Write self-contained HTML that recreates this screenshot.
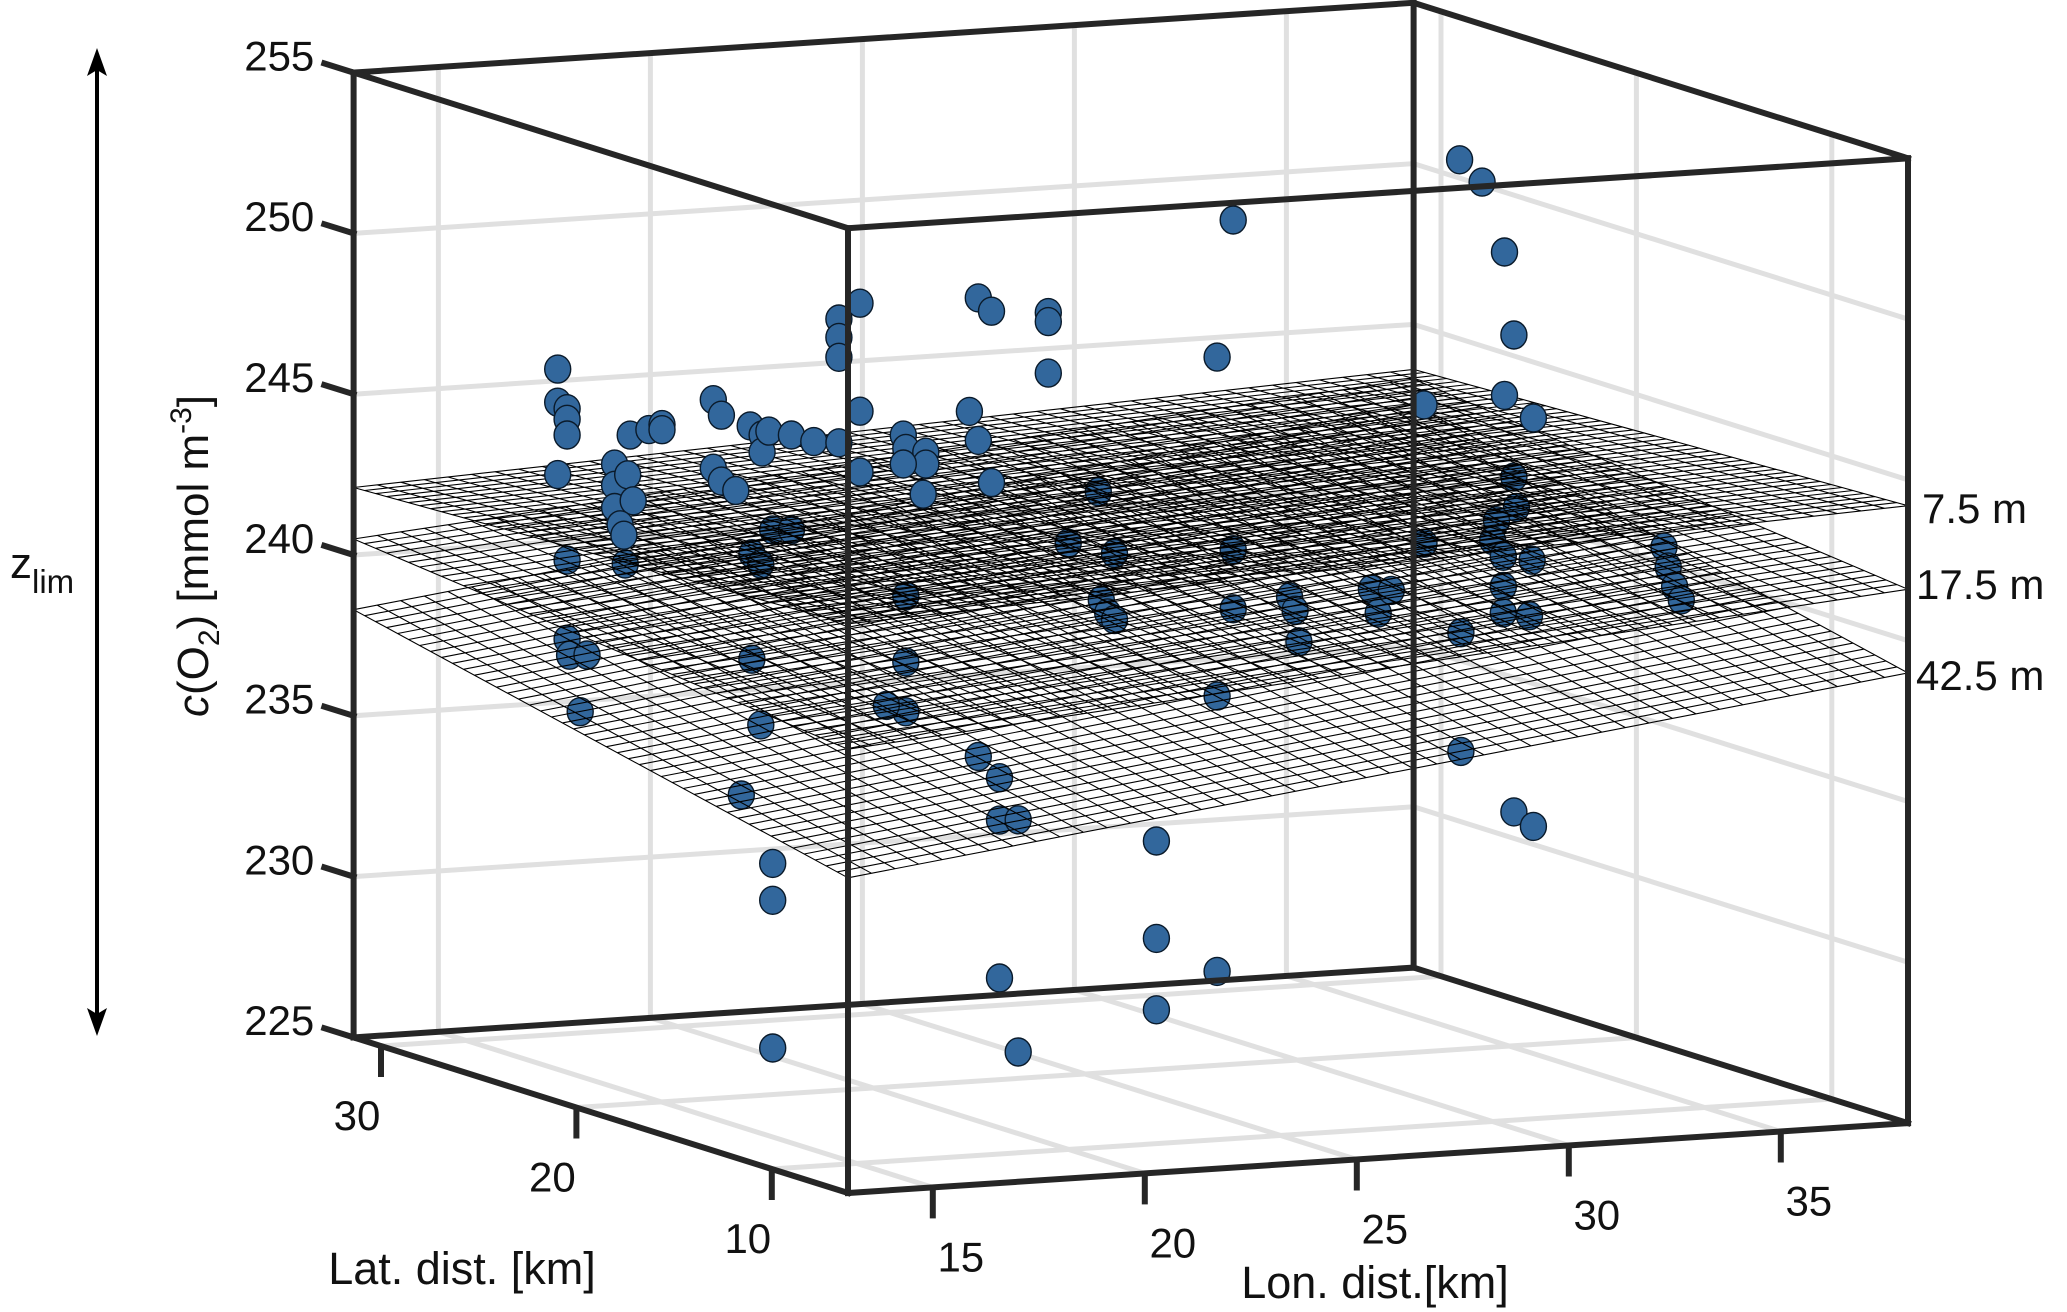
<!DOCTYPE html>
<html><head><meta charset="utf-8"><style>
html,body{margin:0;padding:0;background:#fff}
svg{display:block;font-family:"Liberation Sans",Arial,sans-serif}
</style></head><body>
<svg id="chart" xmlns="http://www.w3.org/2000/svg" width="2067" height="1312" viewBox="0 0 2067 1312">
<rect width="2067" height="1312" fill="#fff"/>
<g id="grid"></g>
<g id="below"></g>
<g id="meshes"></g>
<g id="above"></g>
<g id="box"></g>
<g id="ticks"></g>
<g>
<line x1="97" y1="62" x2="97" y2="1022" stroke="#000" stroke-width="4"/>
<polygon points="97,48 87,76 97,70 107,76" fill="#000"/>
<polygon points="97,1036 87,1008 97,1014 107,1008" fill="#000"/>
</g>
<text x="10" y="578" font-size="44" fill="#111">z<tspan font-size="33" dy="15">lim</tspan></text>
<text transform="translate(208,556) rotate(-90)" text-anchor="middle" font-size="44" fill="#111"><tspan font-style="italic">c</tspan>(O<tspan font-size="30" dy="11">2</tspan><tspan dy="-11">) [mmol m</tspan><tspan font-size="30" dy="-17">-3</tspan><tspan dy="17">]</tspan></text>
<text x="462" y="1284" text-anchor="middle" font-size="45" fill="#111">Lat. dist. [km]</text>
<text x="1375" y="1298" text-anchor="middle" font-size="45" fill="#111">Lon. dist.[km]</text>
<text x="1922" y="523" font-size="42" fill="#111">7.5 m</text>
<text x="1916" y="599" font-size="42" fill="#111">17.5 m</text>
<text x="1916" y="690" font-size="42" fill="#111">42.5 m</text>
</svg>
<script>
var zTicks=[225,230,235,240,245,250,255];
var latTicks=[10,20,30];
var lonTicks=[15,20,25,30,35];
var lonRange=[13,38];
var latRange=[6.1,31.4];
var zRange=[225,255];
var surf7=[242.7,244.2,242.1,243.6];
var surf17=[238.8,241.6,240.5,243.3];
var surf42=[234.8,239.0,238.3,242.5];
var ptLon=[12.56,12.56,12.78,12.78,12.78,12.56,12.78,12.78,12.84,13.25,13.09,13.90,13.90,13.90,14.21,14.34,14.03,14.12,14.15,14.27,14.71,15.02,15.02,16.23,16.42,16.23,16.42,17.10,17.38,17.38,17.54,18.07,18.60,19.19,16.76,17.14,17.35,17.63,18.07,17.14,17.35,16.89,17.63,17.63,17.63,19.19,19.19,19.19,19.69,19.69,19.69,20.71,20.77,21.24,21.24,20.71,21.18,20.77,20.77,20.77,20.31,22.48,22.79,24.13,24.13,24.13,22.27,22.48,22.79,22.48,22.98,22.98,23.42,22.98,23.42,25.31,25.38,25.53,25.69,25.69,24.60,28.49,28.11,28.49,28.49,28.11,28.11,26.68,26.68,26.68,29.82,29.95,30.04,31.75,31.91,32.22,32.99,32.99,33.86,33.86,33.83,34.36,34.89,35.11,34.89,35.57,35.11,35.17,34.70,34.61,34.86,34.86,35.54,35.48,34.86,38.65,38.75,38.90,39.06,35.11,35.57];
var ptLat=[];
var ptC=[248.00,246.97,246.75,246.42,245.93,244.72,242.04,239.58,239.08,239.05,237.30,244.93,244.27,243.58,244.57,243.75,243.03,242.70,241.80,245.80,245.93,246.06,245.90,246.73,246.23,244.60,244.18,245.84,245.53,245.00,245.64,245.47,245.22,245.13,243.86,241.86,241.52,242.56,242.52,238.58,236.52,234.38,232.19,231.04,226.45,248.98,248.41,247.79,249.43,246.07,244.18,245.24,244.82,244.66,244.29,244.34,243.36,240.23,238.18,236.63,236.87,249.35,248.91,248.75,248.47,246.87,245.84,244.92,243.58,235.09,234.39,233.07,233.04,228.16,225.82,243.08,239.71,239.29,239.07,241.12,241.54,251.25,247.02,241.00,239.16,236.48,227.92,232.10,229.07,226.85,239.41,238.99,238.00,239.49,238.73,239.41,245.11,240.81,234.26,237.95,252.66,251.92,249.70,247.10,245.24,244.48,242.68,241.73,241.36,240.75,239.30,238.48,240.06,238.34,240.24,240.20,239.57,238.95,238.52,232.27,231.78];
for(var i=0;i<ptLon.length;i++){ptLat.push(20);}

var NS="http://www.w3.org/2000/svg";
function P(lon,lat,z){
  return [848+42.40*(lon-13)-19.54*(lat-6.1), 1193-2.795*(lon-13)-6.149*(lat-6.1)-32.16*(z-225)];
}
function mk(tag,attrs,parent){
  var e=document.createElementNS(NS,tag);
  for(var k in attrs)e.setAttribute(k,attrs[k]);
  parent.appendChild(e);return e;
}
function seg(a,b,style,parent,name){
  var l=mk('line',{x1:a[0].toFixed(1),y1:a[1].toFixed(1),x2:b[0].toFixed(1),y2:b[1].toFixed(1),stroke:style[0],'stroke-width':style[1],'stroke-linecap':'square'},parent);
  
  
  return l;
}
var L0=lonRange[0],L1=lonRange[1],A0=latRange[0],A1=latRange[1],Z0=zRange[0],Z1=zRange[1];
var grid=document.getElementById('grid');
var gs=['#e0e0e0',5];
lonTicks.forEach(function(v){seg(P(v,A1,Z0),P(v,A1,Z1),gs,grid,'grid-back-lon-'+v);});
zTicks.slice(1,-1).forEach(function(v){seg(P(L0,A1,v),P(L1,A1,v),gs,grid,'grid-back-z-'+v);});
latTicks.forEach(function(v){seg(P(L1,v,Z0),P(L1,v,Z1),gs,grid,'grid-side-lat-'+v);});
zTicks.slice(1,-1).forEach(function(v){seg(P(L1,A0,v),P(L1,A1,v),gs,grid,'grid-side-z-'+v);});
lonTicks.forEach(function(v){seg(P(v,A0,Z0),P(v,A1,Z0),gs,grid,'grid-floor-lon-'+v);});
latTicks.forEach(function(v){seg(P(L0,v,Z0),P(L1,v,Z0),gs,grid,'grid-floor-lat-'+v);});

function surfZ(s,lon,lat){
  var u=(lon-L0)/(L1-L0),w=(lat-A0)/(A1-A0);
  return s[0]*(1-u)*(1-w)+s[1]*u*(1-w)+s[2]*(1-u)*w+s[3]*u*w;
}
var meshes=document.getElementById('meshes');
var N=45;
[[surf42,'mesh-42-5m'],[surf17,'mesh-17-5m'],[surf7,'mesh-7-5m']].forEach(function(sp){
  var s=sp[0],d='';
  for(var i=0;i<=N;i++){
    var lon=L0+(L1-L0)*i/N;
    var a=P(lon,A0,surfZ(s,lon,A0)),b=P(lon,A1,surfZ(s,lon,A1));
    d+='M'+a[0].toFixed(1)+' '+a[1].toFixed(1)+'L'+b[0].toFixed(1)+' '+b[1].toFixed(1);
    var lat=A0+(A1-A0)*i/N;
    var c=P(L0,lat,surfZ(s,L0,lat)),e=P(L1,lat,surfZ(s,L1,lat));
    d+='M'+c[0].toFixed(1)+' '+c[1].toFixed(1)+'L'+e[0].toFixed(1)+' '+e[1].toFixed(1);
  }
  var p=mk('path',{d:d,fill:'none',stroke:'#000','stroke-width':1.1},meshes);
  
  
});
var below=document.getElementById('below'),above=document.getElementById('above');
for(var i=0;i<ptLon.length;i++){
  var q=P(ptLon[i],ptLat[i],ptC[i]);
  var par=ptC[i]<surfZ(surf7,ptLon[i],ptLat[i])?below:above;
  var el=mk('ellipse',{cx:q[0].toFixed(1),cy:q[1].toFixed(1),rx:13,ry:14,fill:'#32679c',stroke:'#0a1a2a','stroke-width':1.4},par);
  
  
}
var box=document.getElementById('box');var bs=['#262626',6];
var C=[[L0,A0],[L1,A0],[L1,A1],[L0,A1]];
for(var k=0;k<4;k++){
  var a=C[k],b=C[(k+1)%4];
  seg(P(a[0],a[1],Z0),P(b[0],b[1],Z0),bs,box,'box-bottom-edge');
  seg(P(a[0],a[1],Z1),P(b[0],b[1],Z1),bs,box,'box-top-edge');
  seg(P(a[0],a[1],Z0),P(a[0],a[1],Z1),bs,box,'box-vertical-edge');
}
var tk=document.getElementById('ticks');
zTicks.forEach(function(v){
  var a=P(L0,A1,v),b=P(L0,A1+1.5,v);
  seg(a,b,bs,tk,'z-tick-'+v);
  var t=mk('text',{x:(b[0]-10).toFixed(1),y:(b[1]+7).toFixed(1),'text-anchor':'end','font-size':42,fill:'#111'},tk);
  t.textContent=v;
  
  
});
latTicks.forEach(function(v){
  var a=P(L0,v,Z0);
  seg([a[0],a[1]+3],[a[0],a[1]+28],bs,tk,'lat-tick-'+v);
  var t=mk('text',{x:(a[0]-24).toFixed(1),y:(a[1]+84).toFixed(1),'text-anchor':'middle','font-size':42,fill:'#111'},tk);
  t.textContent=v;
  
  
});
lonTicks.forEach(function(v){
  var a=P(v,A0,Z0);
  seg([a[0],a[1]+3],[a[0],a[1]+28],bs,tk,'lon-tick-'+v);
  var t=mk('text',{x:(a[0]+28).toFixed(1),y:(a[1]+84).toFixed(1),'text-anchor':'middle','font-size':42,fill:'#111'},tk);
  t.textContent=v;
  
  
});
</script>
</body></html>
